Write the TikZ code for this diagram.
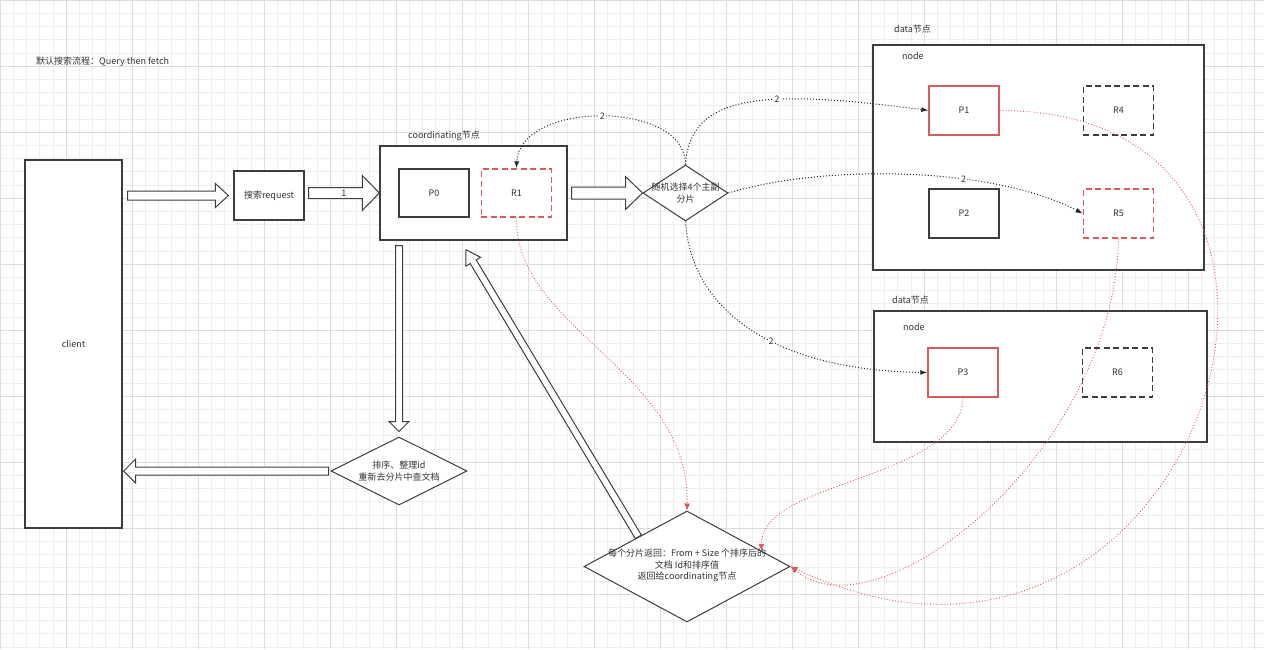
\documentclass[tikz,border=0pt]{standalone}
\usepackage{fontspec}
\setmainfont{Noto Sans CJK SC}
\usetikzlibrary{positioning,arrows.meta,calc,shapes.geometric}
\definecolor{gridminor}{HTML}{eeeeee}
\definecolor{gridmajor}{HTML}{dddddd}
\definecolor{ink}{HTML}{333333}
\definecolor{edge}{HTML}{3d3d3d}
\definecolor{shardred}{HTML}{d65c5c}

% hollow block arrow: tail, tip, shaft half width, head half width, head length
\newcommand{\hollowarrow}[5]{%
  \coordinate (neck) at ($(#2)!#5!(#1)$);
  \draw[blockarrow] ($(#1)!#3!90:(#2)$) -- ($(neck)!#3!90:(#2)$)
    -- ($(neck)!#4!90:(#2)$) -- (#2) -- ($(neck)!#4!-90:(#2)$)
    -- ($(neck)!#3!-90:(#2)$) -- ($(#1)!#3!-90:(#2)$) -- cycle;
}

\begin{document}
\begin{tikzpicture}[
    x=1pt, y=-1pt,
    every node/.style={font=\fontsize{9}{11.5}\selectfont, text=ink},
    outerbox/.style={
        draw=edge,
        line width=1.4pt,
        fill=white,
        inner sep=0pt,
    },
    shard/.style={
        draw=edge,
        line width=1.4pt,
        fill=white,
        minimum width=70pt,
        minimum height=49pt,
    },
    primary/.style={shard, draw=shardred},
    replica/.style={shard, dash pattern=on 6pt off 3.5pt},
    redreplica/.style={replica, draw=shardred},
    decision/.style={
        diamond,
        draw=edge,
        line width=1pt,
        fill=white,
        inner sep=0pt,
    },
    tag/.style={anchor=west, inner sep=0pt},
    num/.style={fill=white, inner sep=1pt},
    blockarrow/.style={draw=edge, line width=1pt, fill=white, line join=miter},
    request/.style={-{Latex[length=7pt,width=5pt]}, dotted, line width=1pt, color=black!85},
    reply/.style={-{Latex[length=7pt,width=6pt]}, dotted, line width=0.9pt, color=shardred},
]

\useasboundingbox (0,0) rectangle (1264,649);
\fill[white] (0,0) rectangle (1264,649);

% Grid
\foreach \gx in {0,13.2,...,1264} \draw[gridminor, line width=0.6pt] (\gx,0) -- (\gx,649);
\foreach \gy in {0,13.2,...,649} \draw[gridminor, line width=0.6pt] (0,\gy) -- (1264,\gy);
\foreach \gx in {0,66,...,1264} \draw[gridmajor, line width=0.7pt] (\gx,0) -- (\gx,649);
\foreach \gy in {0,66,...,649} \draw[gridmajor, line width=0.7pt] (0,\gy) -- (1264,\gy);

% Title
\node[tag] (title) at (36,62) {默认搜索流程：Query then fetch};

% Client and request
\node[outerbox, minimum width=97pt, minimum height=368pt] (client) at (73.5,344) {client};
\node[shard, line width=1.3pt] (req) at (269,195.5) {搜索request};

% Coordinating node
\node[outerbox, minimum width=187pt, minimum height=94pt] (coord) at (473.5,193) {};
\node[tag] (coordtag) at (408,136) {coordinating节点};
\node[shard, minimum height=48pt] (P0) at (434,193) {P0};
\node[redreplica, minimum height=48pt, right=11pt of P0] (R1) {R1};

% Pick shards
\node[decision, minimum width=85pt, minimum height=56pt,
      label={[align=center]center:随机选择4个主副\\分片}] (pick) at (685.5,193) {};

% Data node 1
\node[outerbox, minimum width=331pt, minimum height=225pt] (data1) at (1038.5,157.5) {};
\node[tag] (data1tag) at (894,29) {data节点};
\node[tag] (node1tag) at (902,56) {node};
\node[primary] (P1) at (964,110.5) {P1};
\node[replica, right=83pt of P1] (R4) {R4};
\node[shard] (P2) at (964,213.5) {P2};
\node[redreplica, right=83pt of P2] (R5) {R5};

% Data node 2
\node[outerbox, minimum width=333pt, minimum height=131pt] (data2) at (1040.5,376.5) {};
\node[tag] (data2tag) at (892,300) {data节点};
\node[tag] (node2tag) at (903,327) {node};
\node[primary] (P3) at (963,372.5) {P3};
\node[replica, right=83pt of P3] (R6) {R6};

% Merge and collect
\node[decision, minimum width=136pt, minimum height=68pt,
      label={[align=center]center:排序、整理id\\重新去分片中查文档}] (merge) at (399,471) {};
\node[decision, minimum width=206pt, minimum height=111pt,
      label={[align=center, yshift=1pt]center:每个分片返回：From + Size 个排序后的\\文档 Id和排序值\\返回给coordinating节点}] (collect) at (687,566.5) {};

% Block arrows
\coordinate (a1tail) at ([xshift=5pt]client.east |- req.center);
\coordinate (a1tip) at ([xshift=-5pt]req.west);
\hollowarrow{a1tail}{a1tip}{4.5pt}{12pt}{13pt}

\coordinate (a2tail) at ([xshift=4pt]req.east |- coord.west);
\hollowarrow{a2tail}{coord.west}{5.5pt}{17.5pt}{17pt}
\node (lbl1) at ($(a2tail)!0.5!(coord.west)$) {1};

\coordinate (a3tail) at ([xshift=4pt]coord.east |- pick.west);
\hollowarrow{a3tail}{pick.west}{6pt}{16.5pt}{17pt}

\coordinate (a4tail) at ([yshift=-5pt]merge.north |- coord.south);
\coordinate (a4tip) at ([yshift=5pt]merge.north);
\hollowarrow{a4tail}{a4tip}{3.5pt}{10pt}{10pt}

\coordinate (a5tail) at ([xshift=-2pt]merge.west);
\coordinate (a5tip) at ([xshift=1pt]client.east |- merge.west);
\hollowarrow{a5tail}{a5tip}{4pt}{12pt}{12pt}

\coordinate (a6tail) at ($(collect.north)!0.47!(collect.west)$);
\coordinate (a6tip) at ([shift={(-7.5pt,-9pt)}]coord.south);
\hollowarrow{a6tail}{a6tip}{3.5pt}{8.5pt}{14pt}

% Requests to shards
\draw[request] (pick.north) .. controls (686,100) and (520,100) .. node[num] {2} (R1.north);
\draw[request] (pick.north) .. controls (690,95) and (760,88) .. node[num, pos=0.62] {2} (P1.west);
\draw[request] (pick.east) .. controls (820,165) and (990,165) .. node[num, pos=0.65] {2} (R5.west);
\draw[request] (pick.south) .. controls (690,300) and (760,370) .. node[num, pos=0.6] {2} (P3.west);

% Replies from shards
\coordinate (collectne) at ($(collect.north)!0.72!(collect.east)$);
\draw[reply] (R1.south) .. controls (515,330) and (690,370) .. (collect.north);
\draw[reply] (P3.south) .. controls (960,480) and (760,480) .. (collectne);
\draw[reply] (R5.south) .. controls (1115,450) and (880,640) .. (collect.east);
\draw[reply] (P1.east) .. controls (1400,110) and (1200,760) .. (collect.east);

\end{tikzpicture}
\end{document}
